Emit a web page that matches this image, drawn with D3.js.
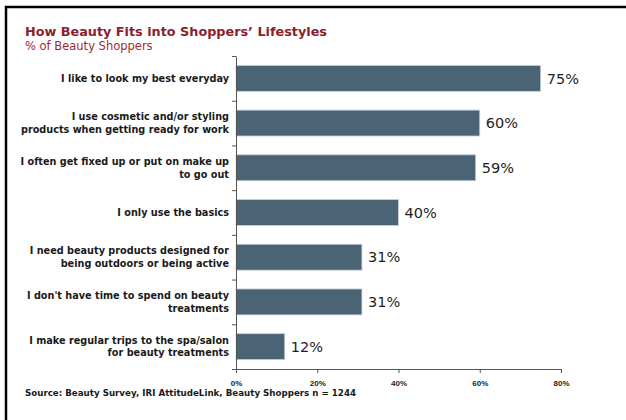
<!DOCTYPE html>
<html>
<head>
<meta charset="utf-8">
<script src="https://cdn.jsdelivr.net/npm/d3@7"></script>
<style>
  html, body { margin: 0; background: #fff; overflow: hidden; }
  svg { display: block; }
</style>
</head>
<body>
<svg id="drawing_region"></svg>
<script>
// chart data
const categories = [
  ["I like to look my best everyday"],
  ["I use cosmetic and/or styling", "products when getting ready for work"],
  ["I often get fixed up or put on make up", "to go out"],
  ["I only use the basics "],
  ["I need beauty products designed for", "being outdoors or being active"],
  ["I don't have time to spend on beauty", "treatments"],
  ["I make regular trips to the spa/salon", "for beauty treatments"]
];
const values = [75, 60, 59, 40, 31, 31, 12];
const xTicks = [0, 20, 40, 60, 80];
const title = "How Beauty Fits into Shoppers\u2019 Lifestyles";
const subtitle = "% of Beauty Shoppers";
const source = "Source: Beauty Survey, IRI AttitudeLink, Beauty Shoppers n = 1244";

const config = {
  width: 626,
  height: 420,
  margin: { top: 56, right: 65, bottom: 51, left: 236 }
};
const font = "'DejaVu Sans', Verdana, sans-serif";

const svg = d3.select('#drawing_region')
  .attr('width', config.width)
  .attr('height', config.height)
  .style('font-family', font);

// frame (right and bottom run off the picture)
svg.append('rect')
  .attr('x', 6).attr('y', 7)
  .attr('width', 700).attr('height', 500)
  .attr('fill', 'none')
  .attr('stroke', '#000')
  .attr('stroke-width', 2.5);

svg.append('text')
  .attr('x', 25).attr('y', 36)
  .attr('fill', '#8c1d2c')
  .attr('font-size', 12.8)
  .attr('font-weight', 'bold')
  .text(title);

svg.append('text')
  .attr('x', 25).attr('y', 50)
  .attr('fill', '#9b2a35')
  .attr('font-size', 11.5)
  .text(subtitle);

const inner_width = config.width - config.margin.left - config.margin.right;
const inner_height = config.height - config.margin.top - config.margin.bottom;
const chart = svg.append('g')
  .attr('transform', `translate(${config.margin.left}, ${config.margin.top})`);

const xscale = d3.scaleLinear().domain([0, 80]).range([0, 325]);
const idx = d3.range(categories.length);
const yscale = d3.scaleBand().domain(idx).range([0, inner_height])
  .paddingInner(0.42).paddingOuter(0.21);
// band boundaries for the left axis ticks
const yedge = d3.scaleLinear().domain([0, categories.length]).range([0, inner_height]);

// bars
chart.selectAll('rect.bar')
  .data(values)
  .join('rect')
  .attr('class', 'bar')
  .attr('x', 0)
  .attr('y', (d, i) => yscale(i))
  .attr('width', d => xscale(d))
  .attr('height', yscale.bandwidth())
  .attr('fill', '#4a6476')
  .attr('stroke', '#c9d3dc')
  .attr('stroke-width', 0.8);

// value labels
chart.selectAll('text.val')
  .data(values)
  .join('text')
  .attr('class', 'val')
  .attr('x', d => xscale(d) + 6)
  .attr('y', (d, i) => yscale(i) + yscale.bandwidth() / 2)
  .attr('dy', '0.36em')
  .attr('font-size', 14.5)
  .attr('fill', '#1e1e1e')
  .text(d => d + '%');

// axes
const xaxis = d3.axisBottom(xscale).tickValues(xTicks).tickFormat(d => d + '%').tickSize(4).tickSizeOuter(0);
const xg = chart.append('g')
  .attr('transform', `translate(0, ${inner_height})`)
  .call(xaxis);
xg.selectAll('text').attr('font-size', 8).attr('font-weight', 'bold').attr('fill', '#222').attr('dy', '1.2em');

const yaxis = d3.axisLeft(yedge).tickValues(d3.range(categories.length + 1)).tickFormat('').tickSize(4).tickSizeOuter(0);
chart.append('g').call(yaxis);

chart.selectAll('.domain, .tick line').attr('stroke', '#555').attr('stroke-width', 1);

// category labels
const lab = chart.selectAll('text.cat')
  .data(categories)
  .join('text')
  .attr('class', 'cat')
  .attr('text-anchor', 'end')
  .attr('font-size', 9.7)
  .attr('font-weight', 'bold')
  .attr('fill', '#1a1a1a')
  .attr('transform', (d, i) => `translate(-7, ${yscale(i) + yscale.bandwidth() / 2})`);
lab.selectAll('tspan')
  .data(d => d.map((t, j) => ({ t, j, n: d.length })))
  .join('tspan')
  .attr('x', 0)
  .attr('y', d => (d.j - (d.n - 1) / 2) * 12.5)
  .attr('dy', '0.36em')
  .text(d => d.t);

svg.append('text')
  .attr('x', 25).attr('y', 396)
  .attr('font-size', 8.7)
  .attr('font-weight', 'bold')
  .attr('fill', '#1a1a1a')
  .text(source);
</script>
</body>
</html>
